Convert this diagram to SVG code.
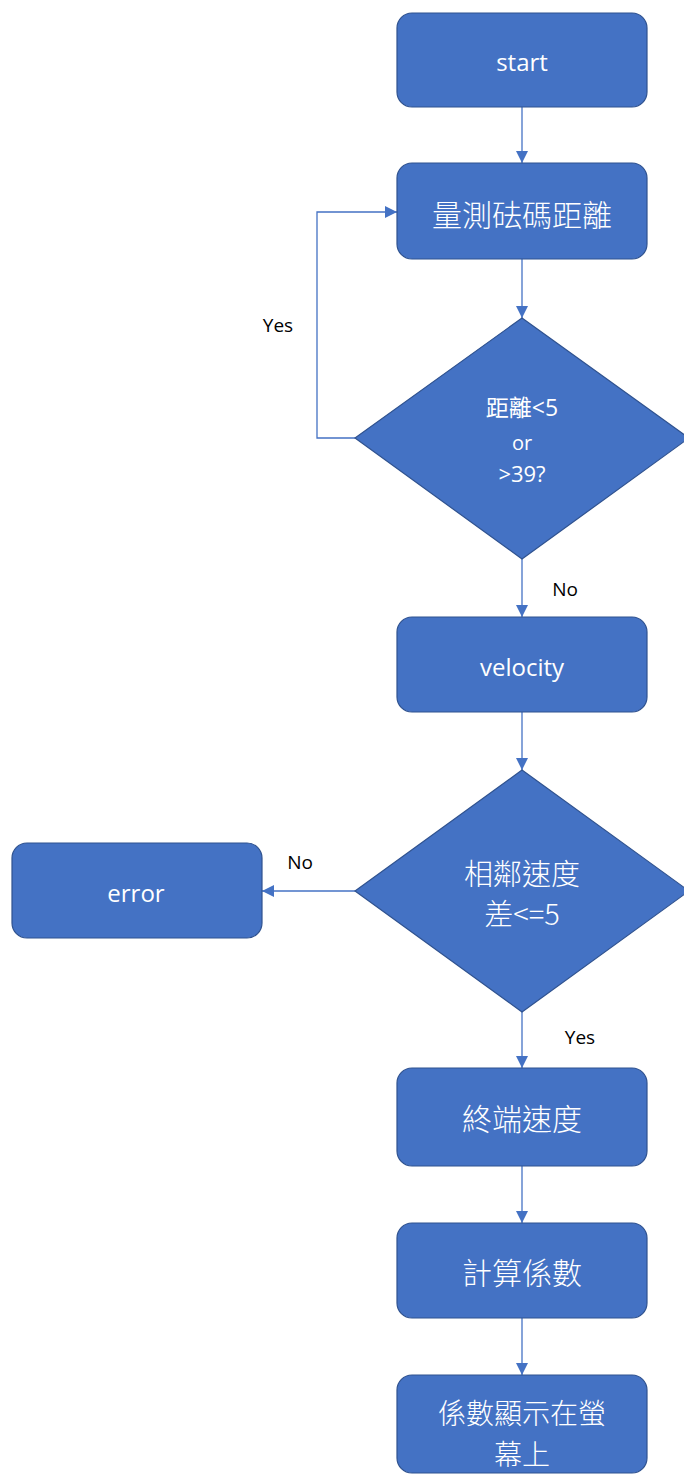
<svg xmlns="http://www.w3.org/2000/svg" width="684" height="1481" viewBox="0 0 684 1481">
<style>
.box{fill:#4472C4;stroke:#2F528F;stroke-width:1.2}
.t{fill:#fff;font-family:"Open Sans","Noto Sans CJK TC",sans-serif;text-anchor:middle;dominant-baseline:central}
.c{fill:#fff;font-family:"Noto Sans CJK TC",sans-serif;font-weight:300;text-anchor:middle;dominant-baseline:central}
.lbl{fill:#000;font-family:"Open Sans",sans-serif;font-size:19px;text-anchor:middle;dominant-baseline:central}
.conn{fill:none;stroke:#4472C4;stroke-width:1.3}
</style>
<defs>
<marker id="ah" viewBox="0 0 12 12" refX="12" refY="6" markerWidth="12" markerHeight="12" markerUnits="userSpaceOnUse" orient="auto"><path d="M0,0 L12,6 L0,12 z" fill="#4472C4"/></marker>
</defs>
<rect width="684" height="1481" fill="#fff"/>
<g id="connectors">
<path class="conn" d="M522,107 V163" marker-end="url(#ah)"/>
<path class="conn" d="M522,259 V318" marker-end="url(#ah)"/>
<path class="conn" d="M355,438 H317 V212 H397" marker-end="url(#ah)"/>
<path class="conn" d="M522,559 V617" marker-end="url(#ah)"/>
<path class="conn" d="M522,712 V770" marker-end="url(#ah)"/>
<path class="conn" d="M355,891 H262" marker-end="url(#ah)"/>
<path class="conn" d="M522,1012 V1068" marker-end="url(#ah)"/>
<path class="conn" d="M522,1166 V1223" marker-end="url(#ah)"/>
<path class="conn" d="M522,1318 V1375" marker-end="url(#ah)"/>
</g>
<g id="labels">
<text class="lbl" x="278" y="325">Yes</text>
<text class="lbl" x="565" y="589">No</text>
<text class="lbl" x="300" y="862">No</text>
<text class="lbl" x="580" y="1037">Yes</text>
</g>
<g id="start"><rect class="box" x="397" y="13" width="250" height="94" rx="15"/><text class="t" x="522" y="61" font-size="24">start</text></g>
<g id="measure"><rect class="box" x="397" y="163" width="250" height="96" rx="15"/><text class="c" x="522" y="213" font-size="30">量測砝碼距離</text></g>
<g id="check1"><polygon class="box" points="522,318 689,438 522,559 355,438"/>
<text class="t" x="522" y="407" font-size="23">距離&lt;5</text>
<text class="t" x="522" y="442" font-size="20">or</text>
<text class="t" x="522" y="473" font-size="22">&gt;39?</text></g>
<g id="velocity"><rect class="box" x="397" y="617" width="250" height="95" rx="15"/><text class="t" x="522" y="666" font-size="24">velocity</text></g>
<g id="check2"><polygon class="box" points="522,770 689,891 522,1012 355,891"/>
<text class="c" x="522" y="872" font-size="29">相鄰速度</text>
<text class="c" x="522" y="912" font-size="29">差&lt;=5</text></g>
<g id="error"><rect class="box" x="12" y="843" width="250" height="95" rx="15"/><text class="t" x="136" y="892" font-size="24">error</text></g>
<g id="terminal"><rect class="box" x="397" y="1068" width="250" height="98" rx="15"/><text class="c" x="522" y="1117" font-size="30">終端速度</text></g>
<g id="compute"><rect class="box" x="397" y="1223" width="250" height="95" rx="15"/><text class="c" x="522" y="1271" font-size="30">計算係數</text></g>
<g id="display"><rect class="box" x="397" y="1375" width="250" height="98" rx="15"/>
<text class="c" x="522" y="1412" font-size="28">係數顯示在螢</text>
<text class="c" x="522" y="1453" font-size="28">幕上</text></g>
</svg>
